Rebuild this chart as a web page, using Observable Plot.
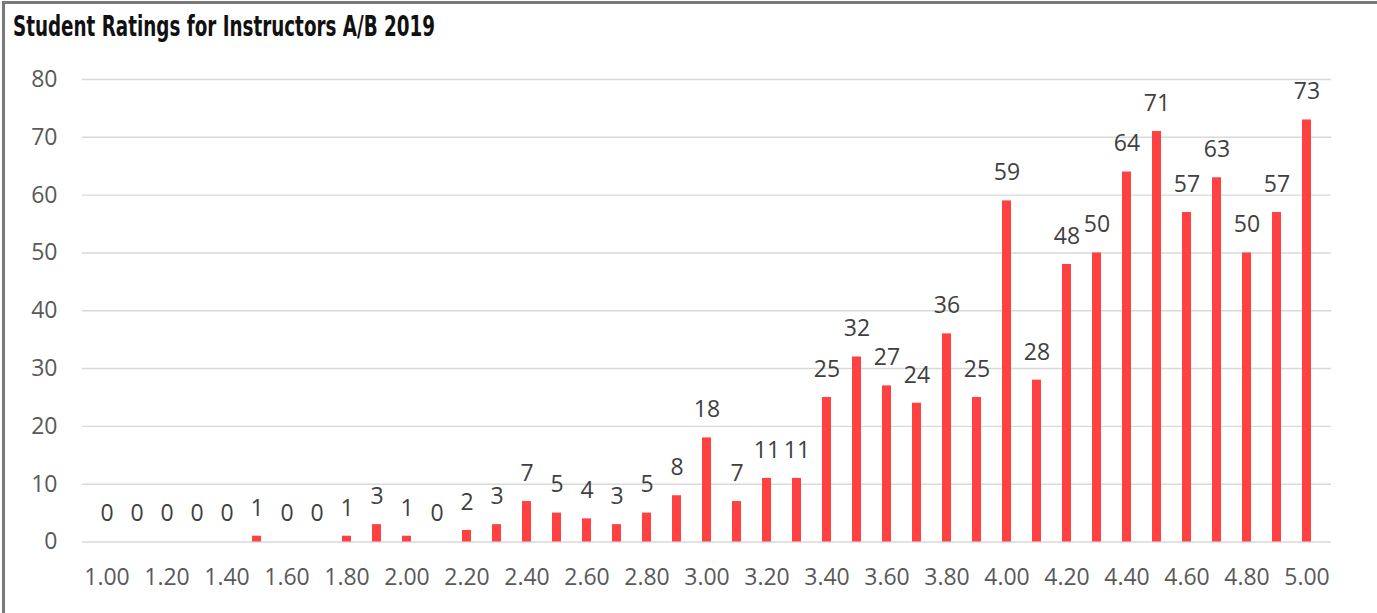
<!DOCTYPE html>
<html>
<head>
<meta charset="utf-8">
<script src="https://cdn.jsdelivr.net/npm/d3@7"></script>
<script src="https://cdn.jsdelivr.net/npm/@observablehq/plot@0.6"></script>
<style>
  html, body { margin: 0; padding: 0; background: #fff; }
  #wrap { position: relative; width: 1377px; height: 613px; overflow: hidden; }
  #frame { position: absolute; left: 2px; top: 1px; right: -10px; bottom: -10px;
           border-top: 3px solid #7a7a7a; border-left: 3px solid #7a7a7a; pointer-events: none; }
  #title { position: relative; height: 50px; }
  #title span { position: absolute; left: 13px; top: 13px; font-family: "Liberation Sans Narrow", "DejaVu Sans Condensed", "Liberation Sans", sans-serif;
                font-weight: bold; font-size: 28px; line-height: 1; color: #111; white-space: nowrap; transform-origin: 0 50%; }
</style>
</head>
<body>
<div id="wrap">
  <div id="title"><span id="tt">Student Ratings for Instructors A/B 2019</span></div>
  <div id="chart"></div>
  <div id="frame"></div>
</div>
<script>
const ratings = ["1.00","1.10","1.20","1.30","1.40","1.50","1.60","1.70","1.80","1.90",
                 "2.00","2.10","2.20","2.30","2.40","2.50","2.60","2.70","2.80","2.90",
                 "3.00","3.10","3.20","3.30","3.40","3.50","3.60","3.70","3.80","3.90",
                 "4.00","4.10","4.20","4.30","4.40","4.50","4.60","4.70","4.80","4.90","5.00"];
const counts = [0,0,0,0,0,1,0,0,1,3,
                1,0,2,3,7,5,4,3,5,8,
                18,7,11,11,25,32,27,24,36,25,
                59,28,48,50,64,71,57,63,50,57,73];
const xTickLabels = ["1.00","1.20","1.40","1.60","1.80","2.00","2.20","2.40","2.60","2.80",
                     "3.00","3.20","3.40","3.60","3.80","4.00","4.20","4.40","4.60","4.80","5.00"];
const yTickValues = [0,10,20,30,40,50,60,70,80];

const data = ratings.map((r, i) => ({rating: r, count: counts[i]}));

// fit title width
const tt = document.getElementById("tt");
const w = tt.getBoundingClientRect().width;
tt.style.transform = `scaleX(${422 / w})`;

const chart = Plot.plot({
  width: 1377,
  height: 563,
  marginTop: 29,
  marginBottom: 71.5,
  marginLeft: 82,
  marginRight: 46,
  style: {fontFamily: "'Open Sans', sans-serif", fontSize: "23px", background: "#fff"},
  x: {type: "band", domain: ratings, paddingInner: 0.69, paddingOuter: 0.345},
  y: {domain: [0, 80]},
  marks: [
    Plot.gridY(yTickValues, {stroke: "#d9d9d9", strokeOpacity: 1, strokeWidth: 1.4}),
    Plot.barY(data, {x: "rating", y: "count", fill: "#ff4141"}),
    Plot.text(data, {x: "rating", y: "count", text: d => String(d.count), dy: -28, fill: "#404040", fontSize: 23}),
    Plot.axisX({ticks: xTickLabels, tickSize: 0, tickPadding: 27, fill: "#595959", fontSize: 23, label: null}),
    Plot.axisY({ticks: yTickValues, tickSize: 0, tickPadding: 25, fill: "#595959", fontSize: 23, label: null})
  ]
});
document.getElementById("chart").appendChild(chart);
</script>
</body>
</html>
